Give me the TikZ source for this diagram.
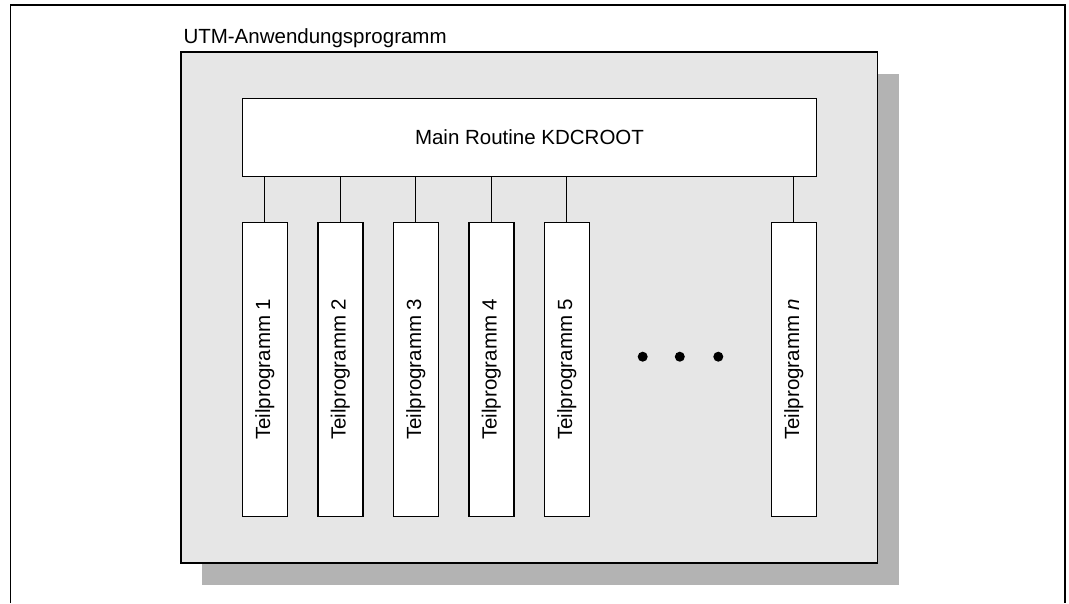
\documentclass[tikz,border=0pt]{standalone}
\usepackage{fontspec}
\setmainfont{Liberation Sans}
\definecolor{panel}{HTML}{E6E6E6}
\definecolor{shadowgray}{HTML}{B3B3B3}
\begin{document}
\begin{tikzpicture}[x=1pt,y=-1pt,
  txt/.style={font=\fontsize{20.5}{24}\selectfont},
  frame/.style={draw=black,line width=1.4pt},
  mainbox/.style={frame,fill=white,rectangle,inner sep=0pt,minimum width=574.4pt,minimum height=78pt,txt},
  subbox/.style={frame,fill=white,rectangle,inner sep=0pt,rotate=90,minimum width=294pt,minimum height=45pt,txt},
  link/.style={draw=black,line width=0.9pt},
  dot/.style={circle,fill=black,inner sep=0pt,minimum size=10pt}]
\useasboundingbox (0,0) rectangle (1069,603);
% outer frame (open at the bottom)
\draw[frame] (10.7,603) -- (10.7,5) -- (1065,5) -- (1065,603);
% shadow and panel
\fill[shadowgray] (202,74) rectangle (899,585);
\draw[frame,fill=panel] (181,52) rectangle (877.7,563);
\node[txt,anchor=base west,inner sep=0pt] (title) at (183.3,43) {UTM-Anwendungsprogramm};
% main routine
\node[mainbox] (main) at (529.5,137.3) {Main Routine KDCROOT};
% sub programs
\node[subbox] (t1) at (264.8,369.3) {Teilprogramm 1};
\node[subbox] (t2) at (340.3,369.3) {Teilprogramm 2};
\node[subbox] (t3) at (415.8,369.3) {Teilprogramm 3};
\node[subbox] (t4) at (491.3,369.3) {Teilprogramm 4};
\node[subbox] (t5) at (566.8,369.3) {Teilprogramm 5};
\node[subbox] (tn) at (793.9,369.3) {Teilprogramm \textit{n}};
\foreach \t in {t1,t2,t3,t4,t5,tn}
  \draw[link] (\t.east |- main.south) -- (\t.east);
% dots
\node[dot] (d1) at (642.7,356.7) {};
\node[dot] (d2) at (679.8,356.7) {};
\node[dot] (d3) at (718.3,356.7) {};
\end{tikzpicture}
\end{document}
